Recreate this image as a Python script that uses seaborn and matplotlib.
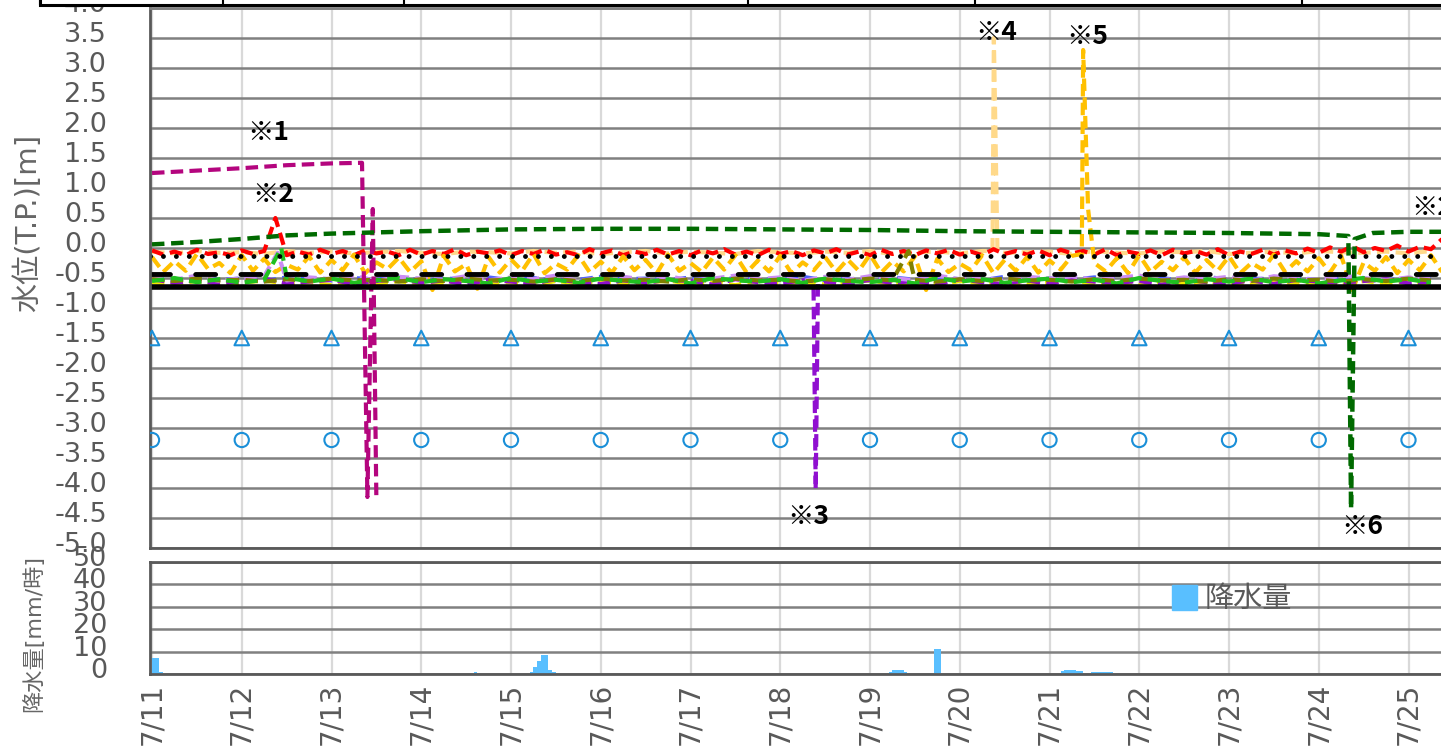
import numpy as np
import pandas as pd
import seaborn as sns
import matplotlib.pyplot as plt
from matplotlib.lines import Line2D
from matplotlib.patches import Rectangle
from matplotlib.transforms import ScaledTranslation

# === DATA (days counted from 7/11 00:00) ===
day_labels = ['7/11', '7/12', '7/13', '7/14', '7/15', '7/16', '7/17', '7/18',
              '7/19', '7/20', '7/21', '7/22', '7/23', '7/24', '7/25']

t3 = np.arange(116) * 0.125   # 3-hourly readings
t6 = np.arange(58) * 0.25     # 6-hourly readings

red_lv = [-0.04, -0.11, -0.06, -0.12, -0.03, -0.10, -0.07, -0.12,
          -0.04, -0.10, -0.05, 0.50, -0.12, -0.06, -0.11, -0.03,
          -0.10, -0.05, -0.12, -0.04, -0.09, -0.06, -0.12, -0.03,
          -0.11, -0.05, -0.10, -0.02, -0.12, -0.06, -0.09, -0.04,
          -0.12, -0.05, -0.10, -0.03, -0.11, -0.07, -0.12, -0.02,
          -0.09, -0.04, -0.12, -0.06, -0.10, -0.03, -0.11, -0.05,
          -0.12, -0.04, -0.09, -0.02, -0.11, -0.06, -0.12, -0.03,
          -0.10, -0.05, -0.12, -0.04, -0.09, -0.02, -0.11, -0.06,
          -0.12, -0.03, -0.10, -0.05, -0.12, -0.04, -0.09, -0.03,
          -0.11, -0.06, -0.12, -0.02, -0.10, -0.05, -0.11, -0.04,
          -0.12, -0.03, -0.09, -0.05, -0.11, -0.02, -0.12, -0.06,
          -0.10, -0.04, -0.12, -0.03, -0.09, -0.05, -0.11, -0.02,
          -0.12, -0.06, -0.10, -0.03, -0.11, -0.04, -0.09, -0.01,
          -0.08, 0.01, -0.06, 0.03, -0.07, 0.00, -0.05, 0.04,
          -0.06, 0.02, -0.02, 0.15]

orange_lv = [-0.15, -0.40, -0.22, -0.38, -0.10, -0.35, -0.25, -0.42,
             -0.12, -0.38, -0.18, -0.40, -0.28, -0.36, -0.14, -0.41,
             -0.20, -0.37, -0.11, -0.42, -0.24, -0.35, -0.16, -0.40,
             -0.22, -0.70, -0.13, -0.39, -0.27, -0.68, -0.15, -0.41,
             -0.19, -0.38, -0.10, -0.42, -0.26, -0.36, -0.12, -0.40,
             -0.23, -0.41, -0.14, -0.37, -0.20, -0.42, -0.11, -0.38,
             -0.25, -0.40, -0.16, -0.36, -0.12, -0.41, -0.21, -0.39,
             -0.13, -0.42, -0.24, -0.37, -0.15, -0.40, -0.19, -0.38,
             -0.11, -0.41, -0.22, -0.39, -0.14, -0.70, -0.18, -0.40,
             -0.26, -0.37, -0.12, -0.42, -0.20, -0.38, -0.15, -0.41,
             -0.21, -0.36, -0.13, 3.30, -0.25, -0.39, -0.17, -0.42,
             -0.12, -0.40, -0.23, -0.37, -0.16, -0.41, -0.20, -0.38,
             -0.14, -0.42, -0.25, -0.36, -0.11, -0.40, -0.22, -0.39,
             -0.17, -0.41, -0.13, -0.70, -0.24, -0.38, -0.15, -0.42,
             -0.20, -0.37, -0.12, -0.40]
orange_spike_t = [10.36, 10.43]
orange_spike_v = [-0.10, 0.65]

peach_lv = [-0.06, -0.09, -0.05, -0.08, -0.07, -0.10, -0.05, -0.08, -0.06, -0.09,
            -0.07, -0.05, -0.08, -0.10, -0.06, -0.07, -0.09, -0.05, -0.08, -0.06,
            -0.10, -0.07, -0.05, -0.09, -0.06, -0.08, -0.10, -0.05, -0.07, -0.09,
            -0.06, -0.08, -0.05, -0.10, -0.07, -0.06, -0.09, -0.05, -0.08, -0.07,
            -0.06, -0.10, -0.05, -0.08, -0.09, -0.06, -0.07, -0.05, -0.10, -0.08,
            -0.06, -0.09, -0.05, -0.07, -0.08, -0.06, -0.09, -0.05]
peach_spike_t = [9.365, 9.38, 9.42]
peach_spike_v = [-0.05, 3.50, -0.05]

purple_lv = [-0.52, -0.58, -0.54, -0.60, -0.55, -0.51, -0.59, -0.56, -0.53, -0.60,
             -0.55, -0.52, -0.58, -0.54, -0.61, -0.53, -0.56, -0.59, -0.52, -0.57,
             -0.60, -0.54, -0.58, -0.53, -0.55, -0.61, -0.52, -0.57, -0.59, -0.54,
             -0.56, -0.60, -0.53, -0.58, -0.55, -0.61, -0.52, -0.57, -0.59, -0.54,
             -0.60, -0.53, -0.56, -0.58, -0.55, -0.61, -0.52, -0.57, -0.59, -0.54,
             -0.60, -0.53, -0.56, -0.58, -0.55, -0.52, -0.59, -0.56]
purple_spike_t = [7.37, 7.395, 7.42]
purple_spike_v = [-0.55, -4.02, -0.60]

green_lv = [-0.55, -0.50, -0.57, -0.52, -0.58, -0.53, -0.49, -0.56, -0.51, -0.58,
            -0.54, -0.50, -0.57, -0.52, -0.55, -0.59, -0.50, -0.56, -0.53, -0.58,
            -0.51, -0.55, -0.57, -0.52, -0.59, -0.50, -0.54, -0.56, -0.52, -0.58,
            -0.51, -0.55, -0.57, -0.53, -0.59, -0.50, -0.56, -0.52, -0.58, -0.54,
            -0.51, -0.57, -0.53, -0.59, -0.50, -0.55, -0.58, -0.52, -0.56, -0.51,
            -0.57, -0.53, -0.59, -0.54, -0.50, -0.56, -0.52, -0.58]
green_spike_t = [1.44]
green_spike_v = [0.00]

yellow_lv = [-0.57, -0.60, -0.55, -0.61, -0.58, -0.54, -0.60, -0.57, -0.62, -0.56,
             -0.59, -0.55, -0.61, -0.58, -0.54, -0.60, -0.57, -0.62, -0.55, -0.59,
             -0.56, -0.61, -0.58, -0.54, -0.60, -0.57, -0.62, -0.55, -0.59, -0.56,
             -0.61, -0.58, -0.54, -0.60, -0.57, -0.62, -0.55, -0.59, -0.56, -0.61,
             -0.58, -0.54, -0.60, -0.57, -0.62, -0.55, -0.59, -0.56, -0.61, -0.58,
             -0.54, -0.60, -0.57, -0.62, -0.55, -0.59, -0.56, -0.60]

blue_lv = [-0.50, -0.54, -0.48, -0.53, -0.51, -0.55, -0.49, -0.52, -0.54, -0.50,
           -0.53, -0.48, -0.55, -0.51, -0.52, -0.49, -0.54, -0.50, -0.55, -0.53,
           -0.48, -0.52, -0.51, -0.54, -0.49, -0.55, -0.50, -0.53, -0.52, -0.48,
           -0.54, -0.51, -0.55, -0.49, -0.53, -0.50, -0.52, -0.54, -0.48, -0.55,
           -0.51, -0.53, -0.49, -0.52, -0.54, -0.50, -0.55, -0.48, -0.53, -0.51,
           -0.52, -0.49, -0.54, -0.50, -0.55, -0.53, -0.51, -0.52]

lavender_lv = [-0.48, -0.53, -0.46, -0.55, -0.50, -0.47, -0.54, -0.49, -0.52, -0.46,
               -0.55, -0.48, -0.51, -0.53, -0.47, -0.54, -0.49, -0.52, -0.46, -0.55,
               -0.50, -0.48, -0.53, -0.47, -0.54, -0.51, -0.46, -0.52, -0.49, -0.55,
               -0.48, -0.53, -0.47, -0.50, -0.54, -0.46, -0.52, -0.49, -0.55, -0.48,
               -0.51, -0.47, -0.53, -0.50, -0.46, -0.54, -0.49, -0.52, -0.48, -0.55,
               -0.47, -0.51, -0.53, -0.46, -0.50, -0.54, -0.49, -0.52]
lavender_spike_t = [1.40]
lavender_spike_v = [-0.08]

olive_lv = [-0.52, -0.55, -0.51, -0.54, -0.53, -0.56, -0.52, -0.55, -0.51, -0.54,
            -0.53, -0.56, -0.52, -0.55, -0.51, -0.54, -0.53, -0.56, -0.52, -0.55,
            -0.51, -0.54, -0.53, -0.56, -0.52, -0.55, -0.51, -0.54, -0.53, -0.56,
            -0.52, -0.55, -0.51, -0.54, -0.53, -0.56, -0.52, -0.55, -0.51, -0.54,
            -0.53, -0.56, -0.52, -0.55, -0.51, -0.54, -0.53, -0.56, -0.52, -0.55,
            -0.51, -0.54, -0.53, -0.56, -0.52, -0.55, -0.51, -0.54]
olive_spike_t = [8.43, 8.47]
olive_spike_v = [-0.05, -0.35]

magenta_t = [0.0, 0.5, 1.0, 1.5, 2.0, 2.34, 2.40, 2.46, 2.50]
magenta_lv = [1.25, 1.29, 1.33, 1.38, 1.41, 1.42, -4.15, 0.65, -4.20]

dkgreen_t = [0.0, 0.5, 1.0, 1.5, 2.0, 3.0, 4.0, 5.0, 6.0, 7.0, 8.0, 9.0, 10.0,
             11.0, 12.0, 13.0, 13.33, 13.36, 13.40, 13.6, 14.0, 14.5]
dkgreen_lv = [0.06, 0.10, 0.15, 0.21, 0.24, 0.28, 0.31, 0.32, 0.32, 0.31, 0.30, 0.28, 0.27,
              0.26, 0.25, 0.23, 0.20, -4.35, 0.15, 0.25, 0.27, 0.27]

dots_level = -0.13
dash_level = -0.43
solid_level = -0.65
tri_level = -1.5
circ_level = -3.2
mark_days = list(range(15))

rain_hour = [0, 1, 2, 86, 101, 102, 103, 104, 105, 106, 107,
             197, 198, 199, 200, 201, 209, 210,
             243, 244, 245, 246, 247, 248, 251, 252, 253, 254, 255, 256]
rain_mm = [7, 7, 1, 1, 1, 3, 6, 8.5, 8.5, 2, 1,
           1, 2, 2, 2, 1, 11, 11,
           1.5, 2, 2, 2, 1.5, 1.5, 1, 1, 1, 1, 1, 1]

notes = ['※1', '※2', '※3', '※4', '※5', '※6', '※2']
note_x = [1.30, 1.35, 7.31, 9.41, 10.42, 13.48, 14.03]
note_y = [1.93, 0.90, -4.47, 3.60, 3.53, -4.65, 0.68]


def series(t, v, extra_t=(), extra_v=()):
    df = pd.DataFrame({'day': list(t) + list(extra_t), 'lv': list(v) + list(extra_v)})
    return df.sort_values('day')


# === FIGURE ===
sns.set_theme(style='white')
plt.rcParams['font.family'] = ['DejaVu Sans', 'Noto Sans CJK JP']
plt.rcParams['axes.unicode_minus'] = False

W, H = 1441, 747
px_day = 89.75
x0 = -2 / px_day
x1 = 14.5
ax_w = (x1 - x0) * px_day / W
fig = plt.figure(figsize=(W / 100, H / 100), dpi=100)
ax = fig.add_axes([150 / W, 1 - 548 / H, ax_w, 540 / H])
ax2 = fig.add_axes([150 / W, 1 - 674 / H, ax_w, 112 / H])

txt = '#595959'
dash = (0, (3, 1.5))

lines = [
    (series(t6, peach_lv, peach_spike_t, peach_spike_v), '#ffd98a'),
    (series(t3, red_lv), '#ff0000'),
    (series(t3, orange_lv, orange_spike_t, orange_spike_v), '#ffc000'),
    (series(t6, blue_lv), '#5060ff'),
    (series(t6, yellow_lv), '#f2e600'),
    (series(t6, purple_lv, purple_spike_t, purple_spike_v), '#9010d0'),
    (series(t6, lavender_lv, lavender_spike_t, lavender_spike_v), '#cc8cf5'),
    (series(t6, olive_lv, olive_spike_t, olive_spike_v), '#808000'),
    (series(t6, green_lv, green_spike_t, green_spike_v), '#20c020'),
    (series(magenta_t, magenta_lv), '#b4057e'),
]
for df, c in lines:
    sns.lineplot(data=df, x='day', y='lv', ax=ax, color=c, lw=3,
                 linestyle=dash, estimator=None)

sns.lineplot(data=series(dkgreen_t, dkgreen_lv), x='day', y='lv', ax=ax,
             color='#006a00', lw=3.2, linestyle=(0, (2.8, 1.5)), estimator=None)

ref_x = [x0, x1]
sns.lineplot(x=ref_x, y=[dots_level] * 2, ax=ax, color='black', lw=3.5,
             linestyle=(0, (0.01, 2.65)), dash_capstyle='round')
sns.lineplot(x=ref_x, y=[dash_level] * 2, ax=ax, color='black', lw=3.5,
             linestyle=(0, (4.1, 5.2)), dash_capstyle='round')
sns.lineplot(x=ref_x, y=[solid_level] * 2, ax=ax, color='black', lw=4)

sns.scatterplot(x=mark_days, y=[tri_level] * 15, ax=ax, marker='^', s=110,
                facecolor='none', edgecolor='#1a8fd8', linewidth=1.5, zorder=5)
sns.scatterplot(x=mark_days, y=[circ_level] * 15, ax=ax, marker='o', s=105,
                facecolor='none', edgecolor='#1a8fd8', linewidth=1.5, zorder=5)

for s, x, y in zip(notes, note_x, note_y):
    ax.text(x, y, s, fontsize=19, fontweight='bold', color='black',
            family=['Noto Sans CJK JP', 'DejaVu Sans'],
            ha='left' if x > 14 else 'center', va='center', zorder=6)

# rain panel
rain = pd.DataFrame({'day': [h / 24 + 1 / 48 for h in rain_hour], 'mm': rain_mm})
hour_edges = [h / 24 for h in range(0, 349)]
sns.histplot(data=rain, x='day', weights='mm', bins=hour_edges,
             ax=ax2, color='#59bfff', alpha=1, linewidth=0)

# axes styling
for a in (ax, ax2):
    a.set_xlim(x0, x1)
    a.set_xlabel('')
    a.set_ylabel('')
    a.set_axisbelow(True)
    a.set_xticks(range(15))
    a.grid(axis='y', color='#808080', lw=1.8)
    a.grid(axis='x', color='#d9d9d9', lw=1.6)
    a.tick_params(axis='y', direction='in', length=8, width=2, color=txt,
                  labelsize=19.5, labelcolor=txt, pad=31)
    a.spines['right'].set_visible(False)
    for sp in ('left', 'bottom', 'top'):
        a.spines[sp].set_color(txt)
        a.spines[sp].set_linewidth(2)

ax.set_ylim(-5, 4)
yt = np.arange(-5, 4.01, 0.5)
ax.set_yticks(yt, labels=[f'{v:.1f}' for v in yt])
ax.set_xticklabels([])
ax.tick_params(axis='x', length=0)
ax.spines['top'].set_color('#808080')

ax2.set_ylim(0, 50)
ax2.set_yticks(range(0, 51, 10))
ax2.set_xticks(range(15), labels=day_labels, rotation=90)
ax2.set_xticks(np.arange(0.5, 14.5, 1), minor=True)
ax2.tick_params(axis='x', which='both', direction='in', length=9, width=2,
                color=txt, labelsize=20, labelcolor=txt, pad=6.5)

# y tick labels sit a little above their gridlines in the original
lift = ScaledTranslation(0, 6 / 100, fig.dpi_scale_trans)
for a in (ax, ax2):
    for lab in a.get_yticklabels():
        lab.set_transform(lab.get_transform() + lift)

ax2.legend(handles=[Line2D([], [], marker='s', ls='', markersize=18, color='#59bfff')],
           labels=['降水量'], loc='center left',
           bbox_to_anchor=(1169.5 / W, 1 - 599 / H), bbox_transform=fig.transFigure,
           frameon=False, fontsize=21, handlelength=1, handletextpad=0.2,
           borderpad=0, borderaxespad=0, labelcolor=txt)

fig.text(28 / W, 1 - 223 / H, '水位(T.P.)[m]', rotation=90, fontsize=21,
         color='#666666', ha='center', va='center')
fig.text(33 / W, 1 - 633 / H, '降水量[mm/時]', rotation=90, fontsize=16,
         color='#666666', ha='center', va='center')

# header table edge (cut off at the top)
fig.patches.append(Rectangle((40 / W, 1 - 4.5 / H), 1.1, 0.1, transform=fig.transFigure,
                             facecolor='white', edgecolor='black', lw=2.2, zorder=10))
for xp in [40, 223, 404, 748, 975, 1302]:
    fig.add_artist(Line2D([xp / W, xp / W], [1, 1 - 4.5 / H], color='black', lw=1.5,
                          transform=fig.transFigure, zorder=11))

fig.savefig('out.png', dpi=100)
